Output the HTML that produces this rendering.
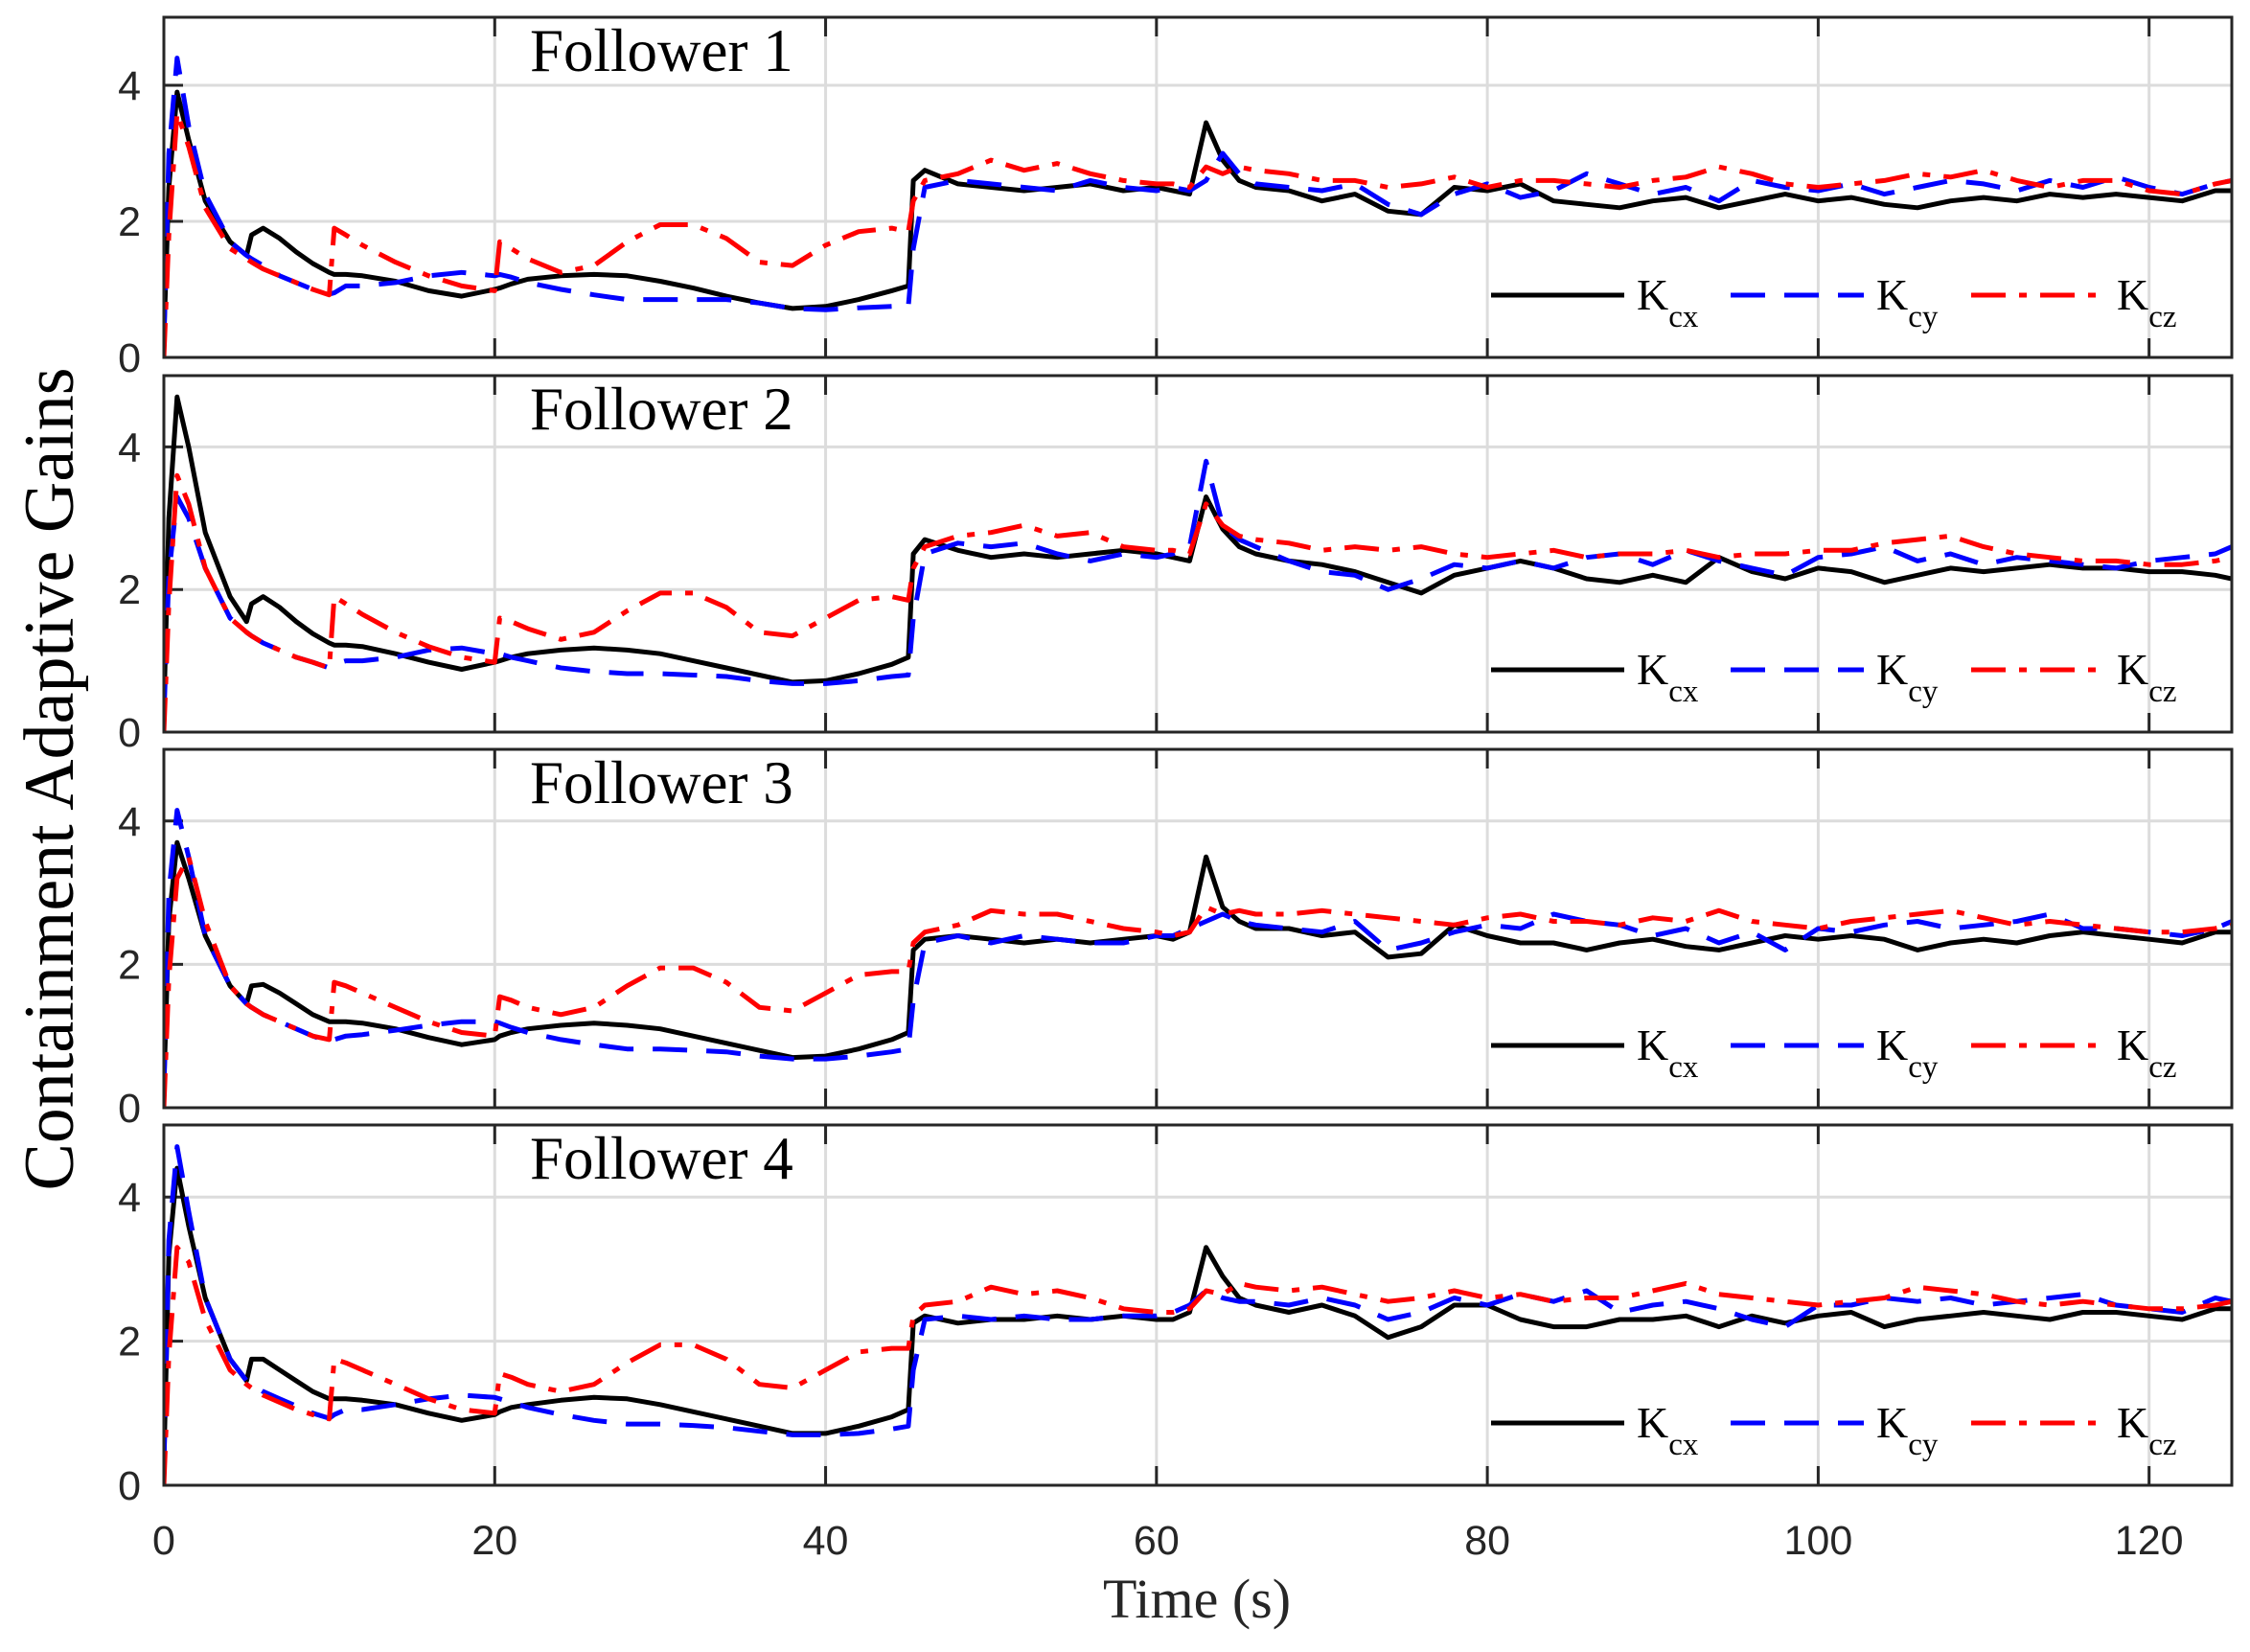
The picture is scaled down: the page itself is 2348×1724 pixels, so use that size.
<!DOCTYPE html>
<html><head><meta charset="utf-8"><style>
html,body{margin:0;padding:0;background:#fff;}
svg{display:block;}
</style></head><body>
<svg id="chart" width="2348" height="1724" xmlns="http://www.w3.org/2000/svg"></svg>
<script>
const T=[0,0.3,0.8,1.5,2.5,4,5,5.3,6,7,8,9,10,10.3,11,12,14,16,18,20,20.3,21,22,24,26,28,30,32,34,36,38,40,42,44,45,45.3,46,48,50,52,54,56,58,60,61,62,63,64,65,66,68,70,72,74,76,78,80,82,84,86,88,90,92,94,96,98,100,102,104,106,108,110,112,114,116,118,120,122,124,125];
const P1x=[0.3,2.5,3.9,3.2,2.3,1.7,1.5,1.8,1.9,1.75,1.55,1.38,1.25,1.22,1.22,1.2,1.12,0.98,0.9,1.0,1.02,1.08,1.15,1.2,1.22,1.2,1.12,1.02,0.9,0.8,0.72,0.75,0.85,0.98,1.05,2.6,2.75,2.55,2.5,2.45,2.5,2.55,2.45,2.5,2.45,2.4,3.45,2.9,2.6,2.5,2.45,2.3,2.4,2.15,2.1,2.5,2.45,2.55,2.3,2.25,2.2,2.3,2.35,2.2,2.3,2.4,2.3,2.35,2.25,2.2,2.3,2.35,2.3,2.4,2.35,2.4,2.35,2.3,2.45,2.45];
const P1y=[0.2,3.0,4.4,3.4,2.4,1.7,1.5,1.45,1.35,1.2,1.1,1.0,0.93,0.95,1.05,1.05,1.1,1.2,1.25,1.2,1.22,1.18,1.1,1.0,0.92,0.85,0.85,0.85,0.85,0.8,0.72,0.7,0.73,0.75,0.75,1.6,2.5,2.6,2.55,2.5,2.45,2.6,2.5,2.45,2.5,2.45,2.6,3.0,2.7,2.55,2.5,2.45,2.55,2.25,2.1,2.4,2.55,2.35,2.45,2.7,2.55,2.4,2.5,2.3,2.6,2.5,2.45,2.55,2.4,2.5,2.6,2.55,2.45,2.6,2.5,2.65,2.5,2.4,2.55,2.6];
const P1z=[0.0,1.8,3.6,3.1,2.2,1.6,1.45,1.4,1.3,1.2,1.1,1.0,0.92,1.9,1.8,1.65,1.4,1.2,1.05,0.98,1.7,1.6,1.45,1.25,1.35,1.7,1.95,1.95,1.75,1.4,1.35,1.65,1.85,1.9,1.85,2.3,2.6,2.7,2.9,2.75,2.85,2.7,2.6,2.55,2.55,2.5,2.8,2.7,2.8,2.75,2.7,2.6,2.6,2.5,2.55,2.65,2.5,2.6,2.6,2.55,2.5,2.6,2.65,2.8,2.7,2.55,2.5,2.55,2.6,2.7,2.65,2.75,2.6,2.5,2.6,2.6,2.45,2.4,2.55,2.6];
const P2x=[0.3,3.0,4.7,4.0,2.8,1.9,1.55,1.8,1.9,1.75,1.55,1.38,1.25,1.22,1.22,1.2,1.1,0.98,0.88,0.98,1.0,1.05,1.1,1.15,1.18,1.15,1.1,1.0,0.9,0.8,0.7,0.72,0.82,0.95,1.05,2.5,2.7,2.55,2.45,2.5,2.45,2.5,2.55,2.5,2.45,2.4,3.3,2.85,2.6,2.5,2.4,2.35,2.25,2.1,1.95,2.2,2.3,2.4,2.3,2.15,2.1,2.2,2.1,2.45,2.25,2.15,2.3,2.25,2.1,2.2,2.3,2.25,2.3,2.35,2.3,2.3,2.25,2.25,2.2,2.15];
const P2y=[0.2,2.2,3.3,3.0,2.3,1.6,1.4,1.35,1.25,1.15,1.05,0.98,0.9,0.95,1.0,1.0,1.05,1.15,1.18,1.1,1.1,1.05,1.0,0.9,0.85,0.82,0.82,0.8,0.78,0.72,0.68,0.68,0.72,0.78,0.8,1.6,2.5,2.65,2.6,2.65,2.5,2.4,2.5,2.45,2.5,2.6,3.8,2.9,2.7,2.6,2.4,2.25,2.2,2.0,2.15,2.35,2.3,2.4,2.3,2.45,2.5,2.35,2.55,2.4,2.3,2.2,2.45,2.5,2.6,2.4,2.5,2.35,2.45,2.4,2.35,2.3,2.4,2.45,2.5,2.6];
const P2z=[0.0,1.8,3.6,3.2,2.3,1.6,1.4,1.35,1.25,1.15,1.05,0.98,0.9,1.9,1.8,1.65,1.4,1.2,1.05,0.98,1.6,1.55,1.45,1.3,1.4,1.7,1.95,1.95,1.75,1.4,1.35,1.6,1.85,1.9,1.85,2.3,2.6,2.75,2.8,2.9,2.75,2.8,2.6,2.55,2.55,2.5,3.2,2.9,2.75,2.7,2.65,2.55,2.6,2.55,2.6,2.5,2.45,2.5,2.55,2.45,2.5,2.5,2.55,2.45,2.5,2.5,2.55,2.55,2.65,2.7,2.75,2.6,2.5,2.45,2.4,2.4,2.35,2.35,2.4,2.45];
const P3x=[0.3,2.6,3.7,3.2,2.4,1.7,1.45,1.7,1.72,1.6,1.45,1.3,1.2,1.2,1.2,1.18,1.1,0.98,0.88,0.95,1.0,1.05,1.1,1.15,1.18,1.15,1.1,1.0,0.9,0.8,0.7,0.72,0.82,0.95,1.05,2.2,2.35,2.4,2.35,2.3,2.35,2.3,2.35,2.4,2.35,2.45,3.5,2.8,2.6,2.5,2.5,2.4,2.45,2.1,2.15,2.55,2.4,2.3,2.3,2.2,2.3,2.35,2.25,2.2,2.3,2.4,2.35,2.4,2.35,2.2,2.3,2.35,2.3,2.4,2.45,2.4,2.35,2.3,2.45,2.45];
const P3y=[0.2,3.0,4.15,3.5,2.4,1.7,1.45,1.4,1.3,1.2,1.1,1.0,0.92,0.95,1.0,1.02,1.08,1.15,1.2,1.2,1.18,1.12,1.05,0.95,0.88,0.82,0.82,0.8,0.78,0.72,0.68,0.68,0.72,0.78,0.82,1.5,2.3,2.4,2.3,2.4,2.35,2.3,2.3,2.4,2.4,2.5,2.6,2.7,2.6,2.55,2.5,2.45,2.6,2.2,2.3,2.45,2.55,2.5,2.7,2.6,2.55,2.4,2.5,2.3,2.45,2.2,2.5,2.45,2.55,2.6,2.5,2.55,2.6,2.7,2.5,2.5,2.45,2.4,2.5,2.6];
const P3z=[0.0,1.8,3.2,3.5,2.6,1.7,1.45,1.4,1.3,1.2,1.1,1.0,0.95,1.75,1.7,1.6,1.4,1.2,1.05,1.0,1.55,1.5,1.4,1.3,1.4,1.7,1.95,1.95,1.75,1.4,1.35,1.6,1.85,1.9,1.9,2.3,2.45,2.55,2.75,2.7,2.7,2.6,2.5,2.45,2.4,2.45,2.8,2.7,2.75,2.7,2.7,2.75,2.7,2.65,2.6,2.55,2.65,2.7,2.6,2.6,2.55,2.65,2.6,2.75,2.6,2.55,2.5,2.6,2.65,2.7,2.75,2.65,2.55,2.6,2.55,2.5,2.45,2.45,2.5,2.55];
const P4x=[0.3,3.2,4.4,3.6,2.6,1.75,1.45,1.75,1.75,1.6,1.45,1.3,1.2,1.2,1.2,1.18,1.12,1.0,0.9,0.98,1.02,1.08,1.12,1.18,1.22,1.2,1.12,1.02,0.92,0.82,0.72,0.72,0.82,0.95,1.05,2.25,2.35,2.25,2.3,2.3,2.35,2.3,2.35,2.3,2.3,2.4,3.3,2.9,2.6,2.5,2.4,2.5,2.35,2.05,2.2,2.5,2.5,2.3,2.2,2.2,2.3,2.3,2.35,2.2,2.35,2.25,2.35,2.4,2.2,2.3,2.35,2.4,2.35,2.3,2.4,2.4,2.35,2.3,2.45,2.45];
const P4y=[0.2,3.4,4.7,3.8,2.6,1.75,1.45,1.4,1.3,1.2,1.1,1.0,0.93,0.98,1.05,1.05,1.12,1.2,1.25,1.22,1.2,1.15,1.08,0.98,0.9,0.85,0.85,0.83,0.8,0.75,0.7,0.7,0.72,0.78,0.82,1.6,2.3,2.35,2.3,2.35,2.3,2.3,2.35,2.35,2.4,2.5,2.7,2.6,2.55,2.55,2.5,2.6,2.5,2.3,2.4,2.6,2.5,2.65,2.55,2.7,2.4,2.5,2.55,2.45,2.3,2.2,2.5,2.5,2.6,2.55,2.6,2.5,2.55,2.6,2.65,2.5,2.45,2.4,2.6,2.55];
const P4z=[0.0,1.8,3.3,3.1,2.3,1.6,1.4,1.35,1.25,1.15,1.05,0.98,0.92,1.75,1.7,1.6,1.4,1.2,1.05,1.0,1.55,1.5,1.4,1.3,1.4,1.7,1.95,1.95,1.75,1.4,1.35,1.6,1.85,1.9,1.9,2.35,2.5,2.55,2.75,2.65,2.7,2.6,2.45,2.4,2.4,2.45,2.7,2.65,2.8,2.75,2.7,2.75,2.65,2.55,2.6,2.7,2.6,2.65,2.55,2.6,2.6,2.7,2.8,2.65,2.6,2.55,2.5,2.55,2.6,2.75,2.7,2.65,2.55,2.5,2.55,2.5,2.45,2.45,2.5,2.55];
const panelTitles=["Follower 1","Follower 2","Follower 3","Follower 4"];
const xTicks=[0,20,40,60,80,100,120];
const yTicks=[0,2,4];

const svg=document.getElementById('chart');
const NS='http://www.w3.org/2000/svg';
function mk(tag,attrs,parent){const e=document.createElementNS(NS,tag);for(const k in attrs)e.setAttribute(k,attrs[k]);(parent||svg).appendChild(e);return e;}
const X0=171,X1=2329,XMAX=125,YMAX=5;
const tops=[18,392,782,1174],bots=[373,764,1156,1550];
const sx=t=>X0+t/XMAX*(X1-X0);
const series=[[P1x,P1y,P1z],[P2x,P2y,P2z],[P3x,P3y,P3z],[P4x,P4y,P4z]];
const styles=[{c:'#000',d:''},{c:'#0000ff',d:'36 20'},{c:'#ff0000',d:'36 14 8 14'}];
const keys=['x','y','z'];
for(let p=0;p<4;p++){
  const top=tops[p],bot=bots[p];
  const sy=v=>bot-v/YMAX*(bot-top);
  const g=mk('g',{});
  
  
  mk('rect',{x:X0,y:top,width:X1-X0,height:bot-top,fill:'#fff'},g);
  xTicks.forEach(t=>{
    const l=mk('line',{x1:sx(t),x2:sx(t),y1:top,y2:bot,stroke:'#dcdcdc','stroke-width':3},g);
    
    
    mk('line',{x1:sx(t),x2:sx(t),y1:bot,y2:bot-20,stroke:'#262626','stroke-width':3},g);
    mk('line',{x1:sx(t),x2:sx(t),y1:top,y2:top+20,stroke:'#262626','stroke-width':3},g);
  });
  yTicks.forEach(v=>{
    if(v>0){const l=mk('line',{x1:X0,x2:X1,y1:sy(v),y2:sy(v),stroke:'#dcdcdc','stroke-width':3},g);
    
    }
    mk('line',{x1:X0,x2:X0+20,y1:sy(v),y2:sy(v),stroke:'#262626','stroke-width':3},g);
    const tx=mk('text',{x:147,y:sy(v)+15,'text-anchor':'end','font-family':'Liberation Sans, sans-serif','font-size':43,fill:'#262626'},g);
    tx.textContent=v;
    
    
  });
  const clipId='clip'+p;
  const cp=mk('clipPath',{id:clipId},g);
  mk('rect',{x:X0,y:top,width:X1-X0,height:bot-top},cp);
  series[p].forEach((vals,si)=>{
    const n=Math.min(T.length,vals.length);
    let d='';
    for(let i=0;i<n;i++)d+=(i?'L':'M')+sx(T[i]).toFixed(1)+' '+sy(vals[i]).toFixed(1);
    const path=mk('path',{d:d,fill:'none',stroke:styles[si].c,'stroke-width':5,'stroke-linejoin':'round','clip-path':'url(#'+clipId+')'},g);
    if(styles[si].d)path.setAttribute('stroke-dasharray',styles[si].d);
    
    
  });
  const fr=mk('rect',{x:X0,y:top,width:X1-X0,height:bot-top,fill:'none',stroke:'#262626','stroke-width':3},g);
  
  
  const tt=mk('text',{x:553,y:top+56,'font-family':'Liberation Serif, serif','font-size':63,fill:'#000'},g);
  tt.textContent=panelTitles[p];
  
  
  const ly=bot-65;
  const lg=mk('g',{},g);
  
  
  const lx=[1556,1806,2057];
  for(let s=0;s<3;s++){
    const ll=mk('line',{x1:lx[s],x2:lx[s]+139,y1:ly,y2:ly,stroke:styles[s].c,'stroke-width':5},lg);
    if(styles[s].d)ll.setAttribute('stroke-dasharray',styles[s].d);
    const lt=mk('text',{x:lx[s]+152,y:ly+15,'font-family':'Liberation Serif, serif','font-size':46,fill:'#000'},lg);
    lt.textContent='K';
    const sub=mk('tspan',{dy:18,'font-size':33},lt);
    sub.textContent='c'+keys[s];
    
    
  }
}
xTicks.forEach(t=>{
  const tx=mk('text',{x:sx(t),y:1622,'text-anchor':'middle','font-family':'Liberation Sans, sans-serif','font-size':43,fill:'#262626'});
  tx.textContent=t;
  
  
});
const xl=mk('text',{x:1249,y:1688,'text-anchor':'middle','font-family':'Liberation Serif, serif','font-size':58,fill:'#262626'});
xl.textContent='Time (s)';


const yl=mk('text',{x:0,y:0,'text-anchor':'middle','font-family':'Liberation Serif, serif','font-size':74,fill:'#000',transform:'translate(76,813) rotate(-90)'});
yl.textContent='Containment Adaptive Gains';


</script>
</body></html>
